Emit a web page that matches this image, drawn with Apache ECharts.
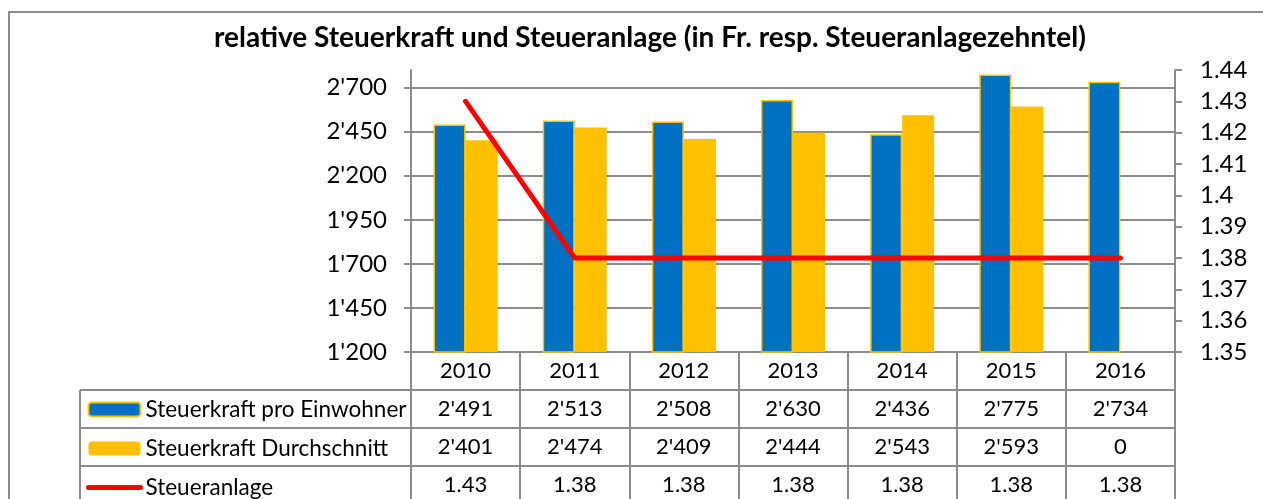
<!DOCTYPE html>
<html>
<head>
<meta charset="utf-8">
<script src="https://cdn.jsdelivr.net/npm/echarts@6/dist/echarts.min.js"></script>
<style>
  html, body { margin: 0; padding: 0; background: #fff; }
  #chart { width: 1263px; height: 499px; }
</style>
</head>
<body>
<div id="chart"></div>
<script>
// data
var years = ['2010', '2011', '2012', '2013', '2014', '2015', '2016'];
var seriesNames = ['Steuerkraft pro Einwohner', 'Steuerkraft Durchschnitt', 'Steueranlage'];
var proEinwohner = [2491, 2513, 2508, 2630, 2436, 2775, 2734];
var durchschnitt = [2401, 2474, 2409, 2444, 2543, 2593, 0];
var steueranlage = [1.43, 1.38, 1.38, 1.38, 1.38, 1.38, 1.38];
var leftTicks = [1200, 1450, 1700, 1950, 2200, 2450, 2700];
var rightTicks = [1.35, 1.36, 1.37, 1.38, 1.39, 1.4, 1.41, 1.42, 1.43, 1.44];

var FONT = 'Lato';
var GRAY = '#8c8c8c';

function fmt(v) {
    return String(v).replace(/\B(?=(\d{3})+(?!\d))/g, "'");
}

var chart = echarts.init(document.getElementById('chart'));

// table row lines below the plot
var rowLines = [390, 428, 466].map(function (y) {
    return {
        type: 'line',
        shape: {x1: 80, y1: y, x2: 1175, y2: y},
        style: {stroke: GRAY, lineWidth: 2}
    };
});

chart.setOption({
    animation: false,
    textStyle: {fontFamily: FONT},
    title: {
        text: 'relative Steuerkraft und Steueranlage (in Fr. resp. Steueranlagezehntel)',
        left: 214,
        top: 23,
        padding: 0,
        textStyle: {fontFamily: FONT, fontSize: 28, fontWeight: 'bold', lineHeight: 30, color: '#000'}
    },
    legend: {
        orient: 'vertical',
        left: 86,
        top: 398,
        itemWidth: 52,
        itemHeight: 14,
        itemGap: 16,
        padding: 0,
        selectedMode: false,
        lineStyle: {width: 5},
        textStyle: {fontFamily: FONT, fontSize: 22.5, lineHeight: 22, color: '#000'},
        data: [
            seriesNames[0],
            seriesNames[1],
            {name: seriesNames[2], itemStyle: {opacity: 0}}
        ]
    },
    grid: {left: 411, right: 88, top: 70, bottom: 147, containLabel: false, outerBoundsMode: 'none'},
    xAxis: {
        type: 'category',
        data: years,
        axisLine: {lineStyle: {color: GRAY, width: 2}},
        axisTick: {show: true, interval: 0, length: 150, lineStyle: {color: GRAY, width: 2}},
        axisLabel: {
            interval: 0,
            margin: 0,
            formatter: function (v, i) {
                return [v, fmt(proEinwohner[i]), fmt(durchschnitt[i]), steueranlage[i].toFixed(2)].join('\n');
            },
            fontFamily: FONT,
            fontSize: 22,
            lineHeight: 38,
            color: '#000'
        }
    },
    yAxis: [{
        type: 'value',
        min: 1200,
        max: 2800,
        axisLine: {show: true, lineStyle: {color: GRAY, width: 2}},
        axisTick: {show: true, length: 7, customValues: leftTicks, lineStyle: {color: GRAY, width: 2}},
        splitLine: {show: true, lineStyle: {color: GRAY, width: 2}},
        axisLabel: {
            customValues: leftTicks,
            margin: 24,
            formatter: function (v) { return fmt(v); },
            fontFamily: FONT,
            fontSize: 24,
            color: '#000'
        }
    }, {
        type: 'value',
        min: 1.35,
        max: 1.44,
        position: 'right',
        axisLine: {show: true, lineStyle: {color: GRAY, width: 2}},
        axisTick: {show: true, length: 7, customValues: rightTicks, lineStyle: {color: GRAY, width: 2}},
        splitLine: {show: false},
        axisLabel: {
            customValues: rightTicks,
            margin: 25,
            fontFamily: FONT,
            fontSize: 24,
            color: '#000'
        }
    }],
    series: [{
        name: seriesNames[0],
        type: 'bar',
        data: proEinwohner,
        barWidth: 32,
        barGap: '0%',
        itemStyle: {color: '#0070C0', borderColor: '#FFC000', borderWidth: 1.5}
    }, {
        name: seriesNames[1],
        type: 'bar',
        data: durchschnitt,
        barWidth: 32,
        barGap: '0%',
        itemStyle: {color: '#FFC000'}
    }, {
        name: seriesNames[2],
        type: 'line',
        yAxisIndex: 1,
        data: steueranlage,
        symbol: 'none',
        z: 5,
        itemStyle: {color: '#FF0000'},
        lineStyle: {color: '#FF0000', width: 5, cap: 'round'}
    }],
    graphic: [{
        type: 'rect',
        shape: {x: 9, y: 12, width: 1300, height: 600},
        style: {fill: 'none', stroke: GRAY, lineWidth: 2}
    }, {
        type: 'line',
        shape: {x1: 80, y1: 390, x2: 80, y2: 499},
        style: {stroke: GRAY, lineWidth: 2}
    }].concat(rowLines)
});

window.addEventListener('resize', function () {
    chart.resize();
});
</script>
</body>
</html>
